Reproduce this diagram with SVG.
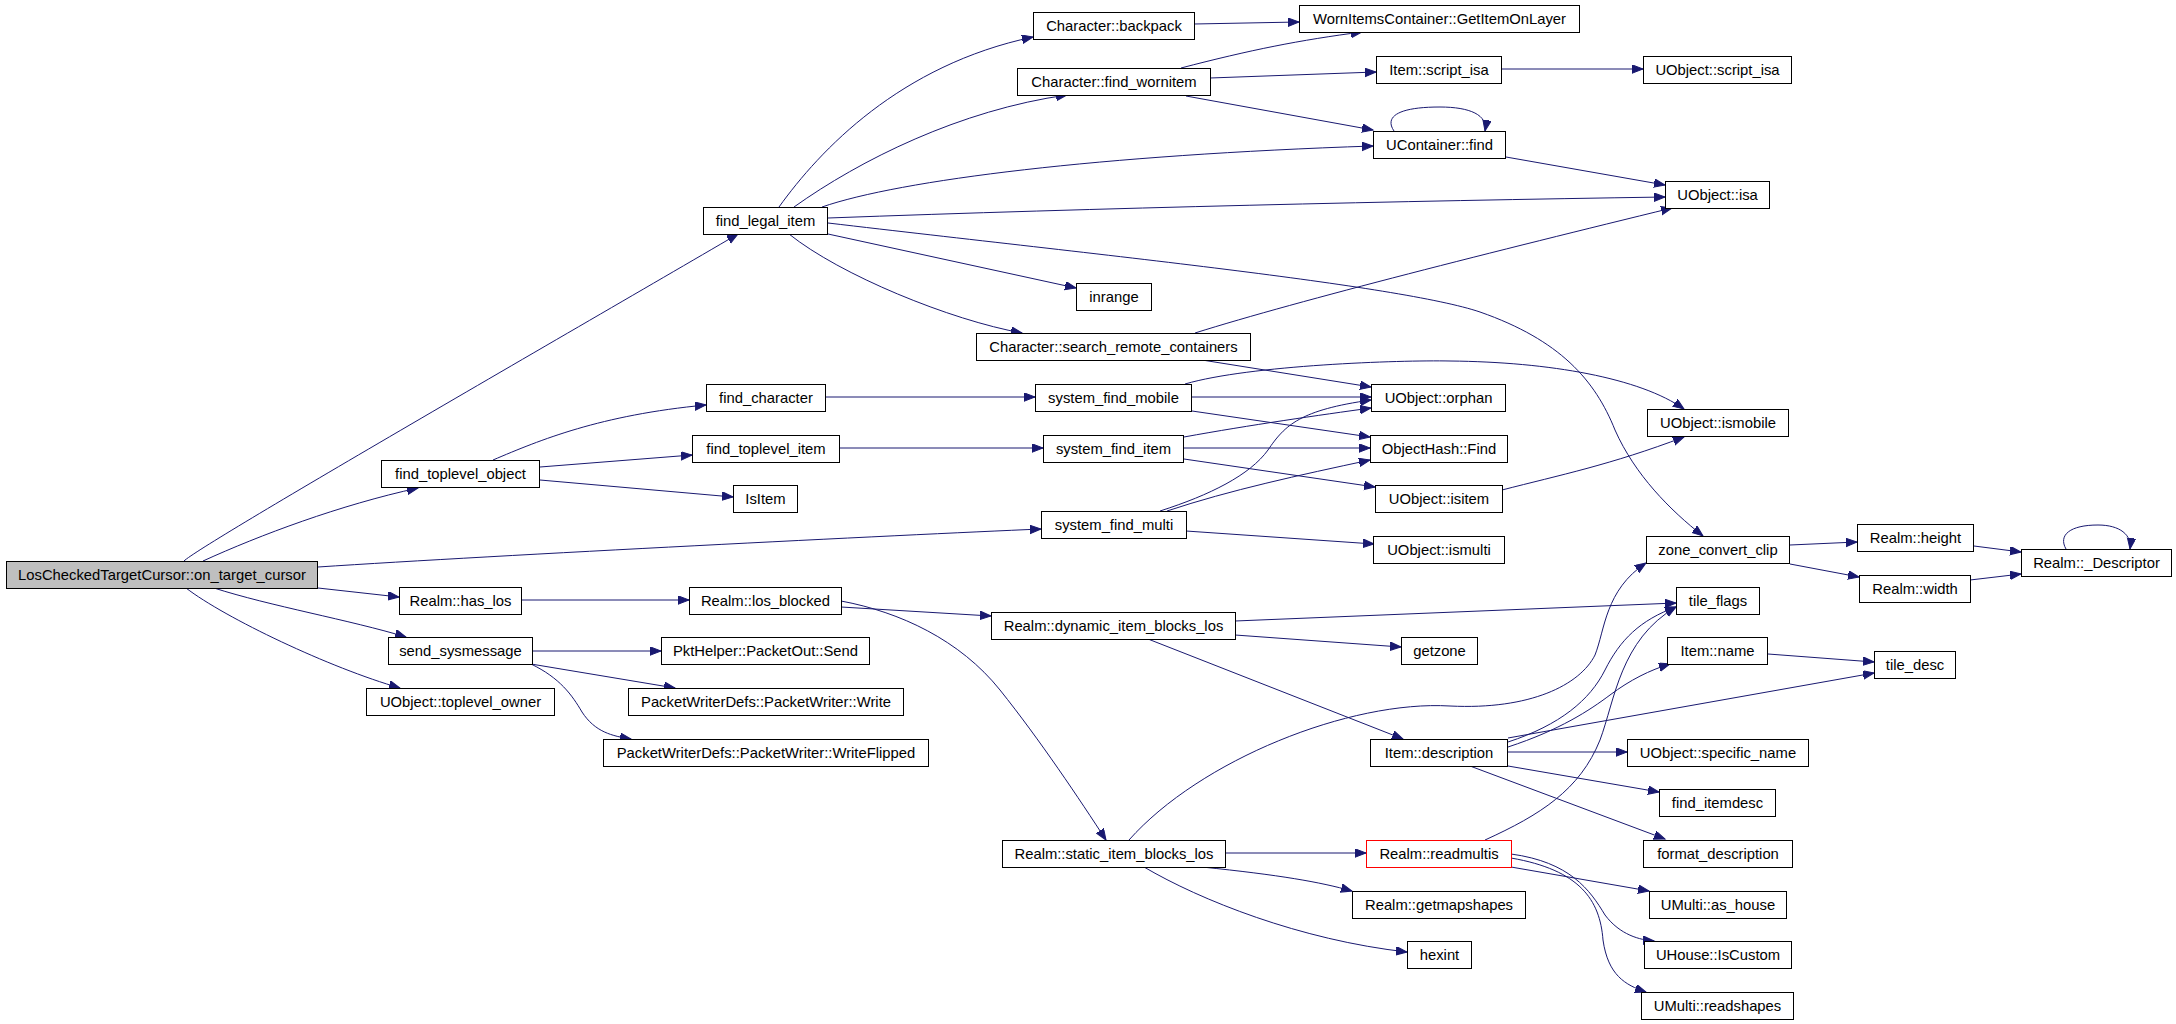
<svg xmlns="http://www.w3.org/2000/svg" width="2176" height="1024" viewBox="0 0 2176 1024">
<defs>
<style>
.n rect{fill:#fff;stroke:#000;stroke-width:1}
.n text{font-family:"Liberation Sans",Arial,sans-serif;font-size:14.8px;text-anchor:middle;fill:#000}
#n1 rect{fill:#bfbfbf}
#n41 rect{stroke:#ff0000}
.e path{fill:none;stroke:#191970;stroke-width:1;marker-end:url(#a)}
</style>
<marker id="a" markerWidth="13" markerHeight="10" refX="11" refY="4.25" orient="auto" markerUnits="userSpaceOnUse"><path d="M0,0 L11,4.25 L0,8.5 z" fill="#191970" stroke="#191970" stroke-width="1"/></marker>
</defs>
<rect width="2176" height="1024" fill="#fff"/>
<g id="edges" class="e">
<path d="M184,561 C200,545 560,338 738,234"/>
<path d="M203,561 C260,535 340,505 418,488"/>
<path d="M318,567 C500,555 900,535 1041,529"/>
<path d="M318,588 L399,597"/>
<path d="M214,588 C270,606 350,620 406,637"/>
<path d="M186,588 C225,618 330,668 400,688"/>
<path d="M779,207 C820,150 900,65 1033,37"/>
<path d="M794,207 C860,160 960,110 1067,95"/>
<path d="M822,207 C900,180 1100,155 1373,146"/>
<path d="M828,218 C1100,208 1400,201 1665,197"/>
<path d="M828,234 L1076,288"/>
<path d="M789,234 C840,275 950,320 1022,333"/>
<path d="M828,223 C1100,255 1400,285 1480,312 C1560,340 1595,380 1615,430 C1635,475 1670,510 1703,536"/>
<path d="M1194,24 L1299,22"/>
<path d="M1181,68 C1250,50 1300,40 1362,32"/>
<path d="M1210,78 L1376,72"/>
<path d="M1186,96 L1373,130"/>
<path d="M1394,131 C1385,118 1395,107 1440,107 C1470,107 1488,115 1485,131"/>
<path d="M1506,157 L1665,185"/>
<path d="M1502,69 L1643,69"/>
<path d="M1195,333 C1300,300 1500,250 1672,208"/>
<path d="M1202,360 L1371,387"/>
<path d="M493,460 C540,440 600,415 706,405"/>
<path d="M540,467 L692,455"/>
<path d="M540,480 L733,497"/>
<path d="M826,397 L1035,397"/>
<path d="M840,448 L1043,448"/>
<path d="M1192,397 L1371,397"/>
<path d="M1192,411 L1370,437"/>
<path d="M1185,384 C1250,365 1400,360 1450,361 C1550,362 1640,378 1684,409"/>
<path d="M1184,437 C1250,425 1320,415 1371,408"/>
<path d="M1184,448 L1370,448"/>
<path d="M1184,459 L1375,487"/>
<path d="M1160,511 C1210,495 1250,475 1268,450 C1285,425 1300,410 1371,400"/>
<path d="M1167,511 C1230,490 1300,475 1370,460"/>
<path d="M1186,531 L1374,544"/>
<path d="M1502,490 C1560,475 1610,465 1684,437"/>
<path d="M521,600 L689,600"/>
<path d="M841,607 L991,616"/>
<path d="M841,601 C900,612 960,640 1000,690 C1040,740 1080,800 1106,840"/>
<path d="M1235,621 L1676,603"/>
<path d="M1235,635 L1401,647"/>
<path d="M1148,639 L1403,739"/>
<path d="M533,651 L661,651"/>
<path d="M531,664 L675,688"/>
<path d="M531,664 C560,678 572,695 582,712 C595,732 612,736 631,739"/>
<path d="M1129,840 C1200,760 1350,700 1450,706 C1530,710 1580,685 1595,655 C1605,630 1605,590 1646,563"/>
<path d="M1226,853 L1366,853"/>
<path d="M1202,867 C1280,875 1320,882 1352,891"/>
<path d="M1144,867 C1200,900 1300,940 1407,952"/>
<path d="M1485,840 C1540,815 1580,790 1600,740 C1615,700 1620,640 1676,607"/>
<path d="M1511,867 L1649,891"/>
<path d="M1511,854 C1570,862 1590,890 1605,915 C1620,935 1640,940 1654,941"/>
<path d="M1511,858 C1580,870 1600,900 1603,940 C1608,975 1625,985 1646,992"/>
<path d="M1508,742 C1560,725 1590,700 1605,670 C1620,640 1640,620 1676,607"/>
<path d="M1508,747 C1560,730 1590,710 1610,695 C1630,680 1650,670 1670,664"/>
<path d="M1508,738 L1874,673"/>
<path d="M1508,752 L1627,752"/>
<path d="M1508,766 L1659,792"/>
<path d="M1470,766 L1665,839"/>
<path d="M1768,654 L1874,662"/>
<path d="M1790,545 L1857,542"/>
<path d="M1790,564 L1859,577"/>
<path d="M1974,546 L2021,552"/>
<path d="M1970,580 L2021,574"/>
<path d="M2066,549 C2058,535 2070,525 2098,525 C2120,525 2132,535 2130,549"/>
</g>
<g id="n1" class="n"><rect x="6.5" y="561.5" width="311" height="27"/><text x="162" y="580">LosCheckedTargetCursor::on_target_cursor</text></g>
<g id="n2" class="n"><rect x="703.5" y="207.5" width="124" height="27"/><text x="765.5" y="226">find_legal_item</text></g>
<g id="n3" class="n"><rect x="381.5" y="460.5" width="158" height="27"/><text x="460.5" y="479">find_toplevel_object</text></g>
<g id="n4" class="n"><rect x="399.5" y="587.5" width="122" height="27"/><text x="460.5" y="606">Realm::has_los</text></g>
<g id="n5" class="n"><rect x="388.5" y="637.5" width="144" height="27"/><text x="460.5" y="656">send_sysmessage</text></g>
<g id="n6" class="n"><rect x="366.5" y="688.5" width="188" height="27"/><text x="460.5" y="707">UObject::toplevel_owner</text></g>
<g id="n7" class="n"><rect x="1033.5" y="12.5" width="161" height="27"/><text x="1114" y="31">Character::backpack</text></g>
<g id="n8" class="n"><rect x="1017.5" y="68.5" width="193" height="27"/><text x="1114" y="87">Character::find_wornitem</text></g>
<g id="n9" class="n"><rect x="1076.5" y="283.5" width="75" height="27"/><text x="1114" y="302">inrange</text></g>
<g id="n10" class="n"><rect x="976.5" y="333.5" width="274" height="27"/><text x="1113.5" y="352">Character::search_remote_containers</text></g>
<g id="n11" class="n"><rect x="706.5" y="384.5" width="119" height="27"/><text x="766" y="403">find_character</text></g>
<g id="n12" class="n"><rect x="692.5" y="435.5" width="147" height="27"/><text x="766" y="454">find_toplevel_item</text></g>
<g id="n13" class="n"><rect x="733.5" y="485.5" width="64" height="27"/><text x="765.5" y="504">IsItem</text></g>
<g id="n14" class="n"><rect x="689.5" y="587.5" width="152" height="27"/><text x="765.5" y="606">Realm::los_blocked</text></g>
<g id="n15" class="n"><rect x="661.5" y="637.5" width="208" height="27"/><text x="765.5" y="656">PktHelper::PacketOut::Send</text></g>
<g id="n16" class="n"><rect x="628.5" y="688.5" width="275" height="27"/><text x="766" y="707">PacketWriterDefs::PacketWriter::Write</text></g>
<g id="n17" class="n"><rect x="603.5" y="739.5" width="325" height="27"/><text x="766" y="758">PacketWriterDefs::PacketWriter::WriteFlipped</text></g>
<g id="n18" class="n"><rect x="1299.5" y="5.5" width="280" height="27"/><text x="1439.5" y="24">WornItemsContainer::GetItemOnLayer</text></g>
<g id="n19" class="n"><rect x="1376.5" y="56.5" width="125" height="27"/><text x="1439" y="75">Item::script_isa</text></g>
<g id="n20" class="n"><rect x="1373.5" y="131.5" width="132" height="27"/><text x="1439.5" y="150">UContainer::find</text></g>
<g id="n21" class="n"><rect x="1643.5" y="56.5" width="148" height="27"/><text x="1717.5" y="75">UObject::script_isa</text></g>
<g id="n22" class="n"><rect x="1665.5" y="181.5" width="104" height="27"/><text x="1717.5" y="200">UObject::isa</text></g>
<g id="n23" class="n"><rect x="1035.5" y="384.5" width="156" height="27"/><text x="1113.5" y="403">system_find_mobile</text></g>
<g id="n24" class="n"><rect x="1043.5" y="435.5" width="140" height="27"/><text x="1113.5" y="454">system_find_item</text></g>
<g id="n25" class="n"><rect x="1041.5" y="511.5" width="145" height="27"/><text x="1114" y="530">system_find_multi</text></g>
<g id="n26" class="n"><rect x="991.5" y="612.5" width="244" height="27"/><text x="1113.5" y="631">Realm::dynamic_item_blocks_los</text></g>
<g id="n27" class="n"><rect x="1371.5" y="384.5" width="134" height="27"/><text x="1438.5" y="403">UObject::orphan</text></g>
<g id="n28" class="n"><rect x="1370.5" y="435.5" width="137" height="27"/><text x="1439" y="454">ObjectHash::Find</text></g>
<g id="n29" class="n"><rect x="1375.5" y="485.5" width="127" height="27"/><text x="1439" y="504">UObject::isitem</text></g>
<g id="n30" class="n"><rect x="1373.5" y="536.5" width="131" height="27"/><text x="1439" y="555">UObject::ismulti</text></g>
<g id="n31" class="n"><rect x="1401.5" y="637.5" width="76" height="27"/><text x="1439.5" y="656">getzone</text></g>
<g id="n32" class="n"><rect x="1647.5" y="409.5" width="141" height="27"/><text x="1718" y="428">UObject::ismobile</text></g>
<g id="n33" class="n"><rect x="1646.5" y="536.5" width="143" height="27"/><text x="1718" y="555">zone_convert_clip</text></g>
<g id="n34" class="n"><rect x="1857.5" y="524.5" width="116" height="27"/><text x="1915.5" y="543">Realm::height</text></g>
<g id="n35" class="n"><rect x="1859.5" y="575.5" width="111" height="27"/><text x="1915" y="594">Realm::width</text></g>
<g id="n36" class="n"><rect x="2021.5" y="549.5" width="150" height="27"/><text x="2096.5" y="568">Realm::_Descriptor</text></g>
<g id="n37" class="n"><rect x="1676.5" y="587.5" width="83" height="27"/><text x="1718" y="606">tile_flags</text></g>
<g id="n38" class="n"><rect x="1667.5" y="637.5" width="100" height="27"/><text x="1717.5" y="656">Item::name</text></g>
<g id="n39" class="n"><rect x="1874.5" y="651.5" width="81" height="27"/><text x="1915" y="670">tile_desc</text></g>
<g id="n40" class="n"><rect x="1002.5" y="840.5" width="223" height="27"/><text x="1114" y="859">Realm::static_item_blocks_los</text></g>
<g id="n41" class="n"><rect x="1366.5" y="840.5" width="145" height="27"/><text x="1439" y="859">Realm::readmultis</text></g>
<g id="n42" class="n"><rect x="1352.5" y="891.5" width="173" height="27"/><text x="1439" y="910">Realm::getmapshapes</text></g>
<g id="n43" class="n"><rect x="1407.5" y="941.5" width="64" height="27"/><text x="1439.5" y="960">hexint</text></g>
<g id="n44" class="n"><rect x="1370.5" y="739.5" width="137" height="27"/><text x="1439" y="758">Item::description</text></g>
<g id="n45" class="n"><rect x="1627.5" y="739.5" width="181" height="27"/><text x="1718" y="758">UObject::specific_name</text></g>
<g id="n46" class="n"><rect x="1659.5" y="789.5" width="116" height="27"/><text x="1717.5" y="808">find_itemdesc</text></g>
<g id="n47" class="n"><rect x="1643.5" y="840.5" width="149" height="27"/><text x="1718" y="859">format_description</text></g>
<g id="n48" class="n"><rect x="1649.5" y="891.5" width="137" height="27"/><text x="1718" y="910">UMulti::as_house</text></g>
<g id="n49" class="n"><rect x="1644.5" y="941.5" width="147" height="27"/><text x="1718" y="960">UHouse::IsCustom</text></g>
<g id="n50" class="n"><rect x="1641.5" y="992.5" width="152" height="27"/><text x="1717.5" y="1011">UMulti::readshapes</text></g>
</svg>
